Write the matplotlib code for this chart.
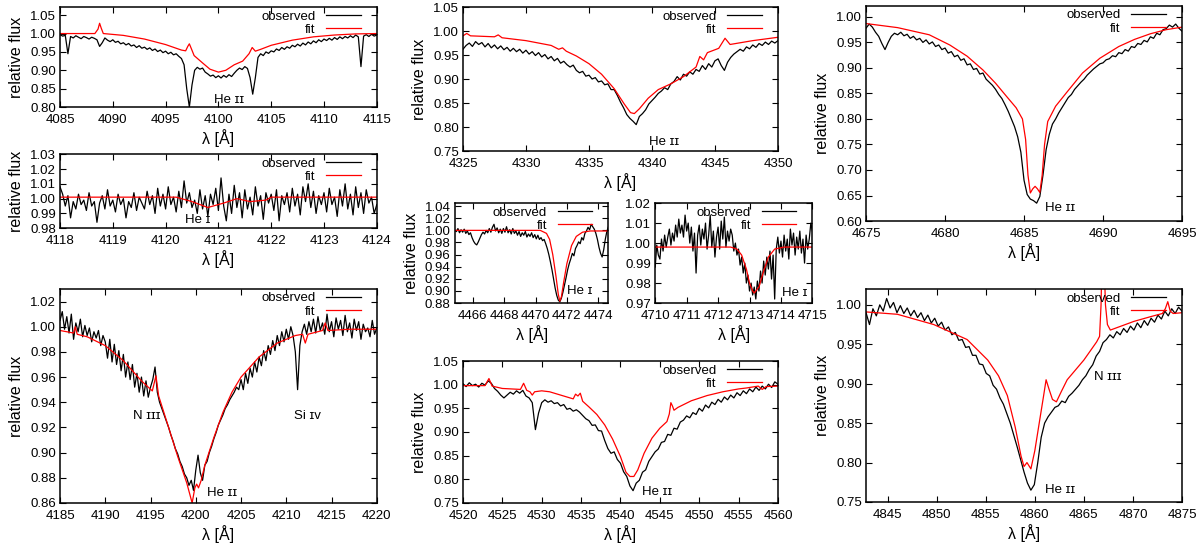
import numpy as np
import matplotlib
matplotlib.use("Agg")
import matplotlib.pyplot as plt
from matplotlib.ticker import FormatStrFormatter

plt.rcParams['font.family'] = ['Liberation Sans', 'DejaVu Sans']

# ---- He II 4100 region ----
obs_4100 = [0.997, 0.993, 0.995, 0.945, 0.992, 0.988, 0.994, 0.990, 0.986, 0.992,
            0.989, 0.985, 0.990, 0.987, 0.983, 0.965, 0.975, 0.988, 0.982, 0.978,
            0.983, 0.976, 0.979, 0.972, 0.975, 0.969, 0.973, 0.966, 0.969, 0.962,
            0.967, 0.960, 0.963, 0.957, 0.961, 0.954, 0.958, 0.951, 0.955, 0.948,
            0.952, 0.945, 0.949, 0.942, 0.945, 0.938, 0.932, 0.915, 0.850, 0.800,
            0.860, 0.900, 0.908, 0.903, 0.906, 0.895, 0.890, 0.884, 0.887, 0.880,
            0.885, 0.879, 0.886, 0.881, 0.888, 0.883, 0.892, 0.900, 0.906, 0.902,
            0.910, 0.905, 0.880, 0.835, 0.880, 0.935, 0.945, 0.940, 0.950, 0.946,
            0.953, 0.950, 0.958, 0.954, 0.962, 0.957, 0.964, 0.960, 0.968, 0.964,
            0.971, 0.966, 0.974, 0.969, 0.977, 0.972, 0.980, 0.975, 0.983, 0.978,
            0.985, 0.981, 0.987, 0.982, 0.989, 0.984, 0.991, 0.986, 0.992, 0.988,
            0.994, 0.989, 0.996, 0.991, 0.910, 0.993, 0.997, 0.992, 0.998, 0.993,
            0.996]
fit_x_4100 = [4085, 4088.3, 4088.6, 4088.75, 4088.9, 4089.1, 4091, 4093, 4095, 4096.5,
              4096.9, 4097.1, 4097.25, 4097.45, 4097.7, 4098.5, 4099.2, 4100, 4100.7,
              4101.5, 4102.3, 4102.9, 4103.2, 4103.5, 4104, 4105, 4107, 4109, 4111,
              4113, 4115]
fit_y_4100 = [1.000, 1.000, 1.012, 1.028, 1.015, 1.000, 0.995, 0.985, 0.970, 0.955,
              0.953, 0.965, 0.972, 0.958, 0.940, 0.920, 0.903, 0.895, 0.900,
              0.915, 0.925, 0.945, 0.962, 0.952, 0.957, 0.968, 0.982, 0.991, 0.996,
              0.999, 1.000]

# ---- He I 4121 region ----
obs_4121 = [1.008, 1.003, 0.995, 1.002, 0.987, 0.998, 0.993, 1.003, 0.996, 0.999,
            0.992, 1.004, 0.995, 0.998, 0.984, 0.997, 1.002, 0.993, 1.006, 0.995,
            0.999, 0.991, 1.003, 0.996, 1.000, 0.987, 0.998, 0.994, 1.004, 0.992,
            1.001, 0.997, 0.993, 1.005, 0.996, 1.002, 0.990, 1.007, 0.995, 1.003,
            0.993, 1.008, 0.996, 1.001, 0.991, 1.005, 0.994, 1.012, 0.997, 1.004,
            0.994, 0.999, 0.990, 1.006, 0.993, 1.002, 0.988, 1.003, 0.996, 1.007,
            0.992, 1.014, 0.995, 0.985, 1.003, 0.990, 1.009, 0.994, 1.004, 0.987,
            1.006, 0.993, 1.001, 0.989, 1.008, 0.995, 1.002, 0.986, 1.004, 0.997,
            1.003, 0.992, 1.006, 0.985, 1.002, 0.996, 1.004, 0.991, 1.007, 0.995,
            1.003, 0.989, 1.008, 0.998, 1.010, 0.994, 1.005, 0.990, 1.002, 0.996,
            1.004, 0.991, 1.007, 0.996, 1.001, 0.988, 1.006, 0.995, 1.010, 0.993,
            1.003, 0.989, 1.008, 0.994, 1.004, 0.990, 1.006, 0.997, 1.001, 0.990,
            0.996]
fit_x_4121 = [4118, 4120.2, 4120.5, 4120.8, 4121.1, 4121.35, 4121.6, 4121.9, 4122.0, 4124]
fit_y_4121 = [1.001, 1.001, 0.998, 0.994, 0.997, 1.000, 0.998, 0.999, 1.001, 1.001]

# ---- He II 4200 region ----
obs_4200 = [1.005, 1.012, 0.998, 1.008, 0.995, 1.010, 0.990, 1.003, 0.996, 1.006,
            0.992, 1.001, 0.993, 0.999, 0.988, 0.996, 0.991, 0.997, 0.985, 0.993,
            0.988, 0.975, 0.990, 0.972, 0.986, 0.970, 0.981, 0.965, 0.978, 0.960,
            0.972, 0.958, 0.970, 0.952, 0.963, 0.948, 0.960, 0.945, 0.957, 0.944,
            0.952, 0.958, 0.968, 0.948, 0.940, 0.935, 0.930, 0.925, 0.920, 0.914,
            0.909, 0.903, 0.899, 0.893, 0.889, 0.883, 0.880, 0.874, 0.878, 0.870,
            0.886, 0.898, 0.884, 0.878, 0.890, 0.893, 0.900, 0.905, 0.911, 0.916,
            0.922, 0.926, 0.930, 0.935, 0.938, 0.942, 0.945, 0.948, 0.952, 0.950,
            0.958, 0.950, 0.963, 0.955, 0.967, 0.960, 0.972, 0.964, 0.976, 0.969,
            0.981, 0.973, 0.985, 0.978, 0.989, 0.981, 0.993, 0.985, 0.996, 0.988,
            0.998, 0.990, 1.000, 0.993, 0.980, 0.950, 0.985, 0.996, 1.002, 0.994,
            1.004, 0.996, 1.006, 0.995, 1.008, 0.997, 1.003, 0.994, 1.010, 0.996,
            1.004, 0.992, 1.007, 0.998, 1.005, 0.993, 1.009, 0.996, 1.003, 0.991,
            1.006, 0.997, 1.004, 0.990, 1.002, 0.996, 0.999, 0.992, 1.005, 0.994,
            0.999]
fit_x_4200 = [4185, 4186.5, 4186.7, 4186.9, 4188, 4190, 4192, 4194, 4195.2, 4195.6,
              4195.9, 4197, 4198, 4199, 4199.6, 4199.9, 4200.1, 4200.3, 4200.6, 4201,
              4202, 4203, 4204, 4205, 4207, 4209, 4211, 4211.8, 4212.1, 4212.4,
              4214, 4214.3, 4214.6, 4217, 4220]
fit_y_4200 = [0.997, 0.995, 1.000, 0.994, 0.992, 0.985, 0.973, 0.957, 0.949, 0.961,
              0.945, 0.920, 0.897, 0.876, 0.860, 0.872, 0.875, 0.872, 0.878, 0.890,
              0.912, 0.932, 0.948, 0.960, 0.976, 0.987, 0.993, 0.994, 0.987, 0.994,
              0.997, 1.003, 0.997, 0.998, 0.998]

# ---- He II 4339 region ----
obs_4339 = [0.962, 0.970, 0.975, 0.968, 0.978, 0.972, 0.976, 0.967, 0.974, 0.965,
            0.971, 0.963, 0.969, 0.961, 0.966, 0.958, 0.964, 0.957, 0.962, 0.954,
            0.960, 0.952, 0.957, 0.949, 0.955, 0.946, 0.951, 0.942, 0.947, 0.938,
            0.943, 0.933, 0.937, 0.930, 0.925, 0.929, 0.918, 0.913, 0.916, 0.906,
            0.908, 0.900, 0.903, 0.894, 0.896, 0.888, 0.890, 0.878, 0.878, 0.866,
            0.852, 0.840, 0.826, 0.818, 0.812, 0.805, 0.822, 0.828, 0.836, 0.848,
            0.855, 0.862, 0.870, 0.875, 0.882, 0.878, 0.890, 0.895, 0.905, 0.898,
            0.910, 0.906, 0.915, 0.910, 0.920, 0.916, 0.928, 0.920, 0.932, 0.925,
            0.938, 0.942, 0.928, 0.918, 0.935, 0.945, 0.952, 0.957, 0.962, 0.958,
            0.967, 0.963, 0.971, 0.966, 0.974, 0.970, 0.977, 0.972, 0.979, 0.975,
            0.980]
fit_x_4339 = [4325, 4325.3, 4325.6, 4327.5, 4327.8, 4328.1, 4330, 4332, 4332.6, 4332.9,
              4333.2, 4334, 4335, 4336, 4337, 4337.8, 4338.3, 4338.6, 4339, 4339.7,
              4340.5, 4341.5, 4342.5, 4343.5, 4343.8, 4344.1, 4344.4, 4345.3, 4345.8,
              4346.2, 4348, 4350]
fit_y_4339 = [0.990, 0.995, 0.990, 0.988, 0.992, 0.986, 0.980, 0.970, 0.962, 0.965,
              0.958, 0.948, 0.932, 0.910, 0.880, 0.848, 0.830, 0.828, 0.838, 0.860,
              0.878, 0.890, 0.905, 0.925, 0.947, 0.940, 0.955, 0.964, 0.985,
              0.972, 0.980, 0.987]

# ---- He I 4471 region ----
obs_4471 = [1.000, 0.998, 1.003, 0.996, 1.001, 0.997, 1.002, 0.995, 0.999, 0.993,
            0.996, 0.988, 0.982, 0.978, 0.976, 0.981, 0.987, 0.993, 0.997, 0.994,
            1.000, 0.996, 1.003, 0.997, 1.005, 1.010, 0.999, 1.004, 0.996, 1.002,
            0.995, 1.003, 0.997, 1.006, 0.996, 1.001, 0.994, 1.003, 0.995, 0.999,
            0.992, 0.998, 0.990, 0.996, 0.992, 0.998, 0.989, 0.994, 0.990, 0.996,
            0.988, 0.993, 0.986, 0.992, 0.985, 0.988, 0.983, 0.985, 0.978, 0.970,
            0.960, 0.948, 0.935, 0.920, 0.905, 0.893, 0.885, 0.882, 0.888, 0.898,
            0.910, 0.922, 0.935, 0.945, 0.953, 0.962, 0.958, 0.970, 0.975, 0.981,
            0.978, 0.988, 0.984, 0.995, 0.999, 1.005, 1.001, 1.010, 1.006, 1.002,
            0.995, 0.985, 0.972, 0.962, 0.956, 0.968, 0.985, 0.998, 1.006]
fit_x_4471 = [4464.85, 4470.3, 4470.7, 4470.9, 4471.1, 4471.3, 4471.45, 4471.55, 4471.65,
              4471.8, 4472.0, 4472.3, 4472.6, 4473.0, 4473.5, 4474.65]
fit_y_4471 = [1.000, 1.000, 0.995, 0.985, 0.960, 0.925, 0.895, 0.883, 0.890,
              0.915, 0.945, 0.975, 0.990, 0.997, 0.999, 0.999]

# ---- He I 4713 region ----
obs_4713 = [0.988, 0.999, 0.994, 0.992, 1.002, 0.996, 1.004, 0.998, 1.003, 1.007,
            0.999, 1.005, 1.001, 1.009, 1.003, 1.012, 1.005, 1.009, 1.003, 1.014,
            1.006, 1.010, 1.000, 1.008, 0.996, 1.005, 0.985, 1.004, 1.009, 0.999,
            1.007, 1.002, 1.010, 0.997, 1.004, 1.014, 0.998, 1.006, 0.993, 1.003,
            1.008, 0.997, 1.011, 1.002, 1.013, 0.998, 1.006, 1.001, 1.007, 1.004,
            0.996, 1.000, 0.994, 0.997, 0.989, 0.993, 0.985, 0.990, 0.980, 0.984,
            0.976, 0.980, 0.974, 0.978, 0.972, 0.981, 0.976, 0.986, 0.980, 0.991,
            0.984, 0.993, 0.987, 0.996, 0.982, 0.994, 0.972, 0.997, 1.003, 0.995,
            1.001, 0.993, 1.004, 0.996, 1.002, 0.992, 1.007, 0.999, 1.005, 0.994,
            1.003, 0.997, 1.006, 0.995, 1.002, 0.990, 1.004, 0.997, 1.002, 1.010,
            1.006]
fit_x_4713 = [4710, 4712.4, 4712.6, 4712.75, 4712.9, 4713.0, 4713.1, 4713.15, 4713.3,
              4713.45, 4713.6, 4713.8, 4714.1, 4715]
fit_y_4713 = [0.998, 0.998, 0.997, 0.994, 0.987, 0.980, 0.976, 0.975, 0.978,
              0.986, 0.993, 0.997, 0.998, 0.998]

# ---- He II 4542 region ----
obs_4542 = [1.002, 0.996, 1.004, 0.998, 1.001, 0.995, 1.003, 0.999, 1.008, 1.003,
            0.992, 0.986, 0.978, 0.972, 0.978, 0.984, 0.980, 0.987, 0.982, 0.988,
            0.976, 0.972, 0.962, 0.905, 0.940, 0.962, 0.968, 0.963, 0.966, 0.960,
            0.962, 0.955, 0.958, 0.948, 0.950, 0.944, 0.947, 0.942, 0.935, 0.928,
            0.924, 0.914, 0.915, 0.903, 0.902, 0.882, 0.865, 0.855, 0.858, 0.842,
            0.834, 0.816, 0.806, 0.786, 0.776, 0.792, 0.798, 0.815, 0.820, 0.838,
            0.848, 0.858, 0.864, 0.878, 0.880, 0.895, 0.893, 0.908, 0.906, 0.921,
            0.925, 0.934, 0.930, 0.941, 0.937, 0.950, 0.944, 0.957, 0.951, 0.963,
            0.958, 0.969, 0.963, 0.974, 0.968, 0.978, 0.972, 0.983, 0.977, 0.987,
            0.981, 0.991, 0.985, 0.995, 0.988, 0.997, 0.991, 1.001, 0.994, 1.006,
            1.001]
fit_x_4542 = [4520, 4522.8, 4523.3, 4523.7, 4525, 4527.3, 4527.7, 4528.1, 4528.5, 4528.8,
              4529.1, 4530, 4531, 4532, 4533, 4534, 4534.3, 4534.6, 4534.9, 4535.2,
              4536, 4537, 4538, 4539, 4540, 4540.7, 4541.2, 4541.7, 4542.2, 4543,
              4544, 4545, 4545.9, 4546.2, 4546.4, 4546.6, 4546.8, 4547.3, 4549, 4551,
              4553, 4555, 4556, 4557.5, 4558, 4558.5, 4560]
fit_y_4542 = [0.998, 0.998, 1.013, 0.997, 0.992, 0.990, 1.003, 0.988, 0.985, 0.978,
              0.985, 0.987, 0.985, 0.980, 0.975, 0.970, 0.980, 0.976, 0.982, 0.965,
              0.953, 0.937, 0.915, 0.885, 0.848, 0.815, 0.806, 0.806, 0.820, 0.855,
              0.887, 0.908, 0.922, 0.938, 0.962, 0.955, 0.946, 0.952, 0.966, 0.977,
              0.985, 0.991, 0.993, 0.997, 0.990, 0.996, 0.997]

# ---- He II 4686 region ----
obs_4686 = [0.978, 0.986, 0.980, 0.970, 0.962, 0.948, 0.936, 0.950, 0.962, 0.968,
            0.965, 0.970, 0.963, 0.966, 0.958, 0.962, 0.955, 0.958, 0.950, 0.955,
            0.947, 0.951, 0.942, 0.945, 0.936, 0.939, 0.929, 0.932, 0.922, 0.925,
            0.915, 0.918, 0.906, 0.908, 0.897, 0.899, 0.888, 0.890, 0.878, 0.872,
            0.866, 0.858, 0.848, 0.840, 0.828, 0.815, 0.800, 0.785, 0.765, 0.735,
            0.680, 0.652, 0.643, 0.640, 0.635, 0.648, 0.690, 0.740, 0.770, 0.790,
            0.800, 0.812, 0.822, 0.832, 0.842, 0.848, 0.858, 0.865, 0.872, 0.878,
            0.886, 0.892, 0.898, 0.903, 0.908, 0.910, 0.916, 0.918, 0.924, 0.922,
            0.930, 0.928, 0.936, 0.933, 0.942, 0.940, 0.948, 0.946, 0.954, 0.951,
            0.961, 0.958, 0.968, 0.965, 0.975, 0.977, 0.984, 0.980, 0.986, 0.978,
            0.972]
fit_x_4686 = [4675, 4677, 4679, 4680.3, 4681.4, 4682.4, 4683.2, 4683.9, 4684.5, 4684.9,
              4685.1, 4685.25, 4685.4, 4685.55, 4685.7, 4685.85, 4686.0, 4686.15,
              4686.3, 4686.5, 4687, 4687.7, 4688.7, 4689.8, 4691, 4692, 4693, 4694,
              4695]
fit_y_4686 = [0.987, 0.979, 0.965, 0.945, 0.923, 0.896, 0.870, 0.844, 0.822, 0.800,
              0.760, 0.690, 0.655, 0.663, 0.668, 0.663, 0.656, 0.690,
              0.750, 0.795, 0.825, 0.852, 0.890, 0.919, 0.942, 0.956, 0.967, 0.975,
              0.980]

# ---- He II 4859 region ----
obs_4859 = [0.990, 0.975, 0.995, 0.986, 1.000, 0.992, 1.008, 0.996, 1.003, 0.990,
            0.999, 0.989, 0.996, 0.986, 0.993, 0.984, 0.990, 0.980, 0.987, 0.977,
            0.983, 0.973, 0.978, 0.968, 0.972, 0.962, 0.965, 0.955, 0.956, 0.946,
            0.947, 0.936, 0.936, 0.925, 0.924, 0.913, 0.910, 0.898, 0.893, 0.882,
            0.874, 0.862, 0.850, 0.835, 0.820, 0.804, 0.788, 0.774, 0.765, 0.772,
            0.800, 0.832, 0.850, 0.858, 0.864, 0.870, 0.872, 0.878, 0.876, 0.884,
            0.888, 0.893, 0.898, 0.905, 0.910, 0.918, 0.924, 0.935, 0.941, 0.952,
            0.956, 0.962, 0.958, 0.966, 0.962, 0.970, 0.965, 0.973, 0.968, 0.977,
            0.971, 0.980, 0.974, 0.983, 0.978, 0.987, 0.982, 0.992, 0.986, 0.995,
            0.989, 0.997, 0.992]
fit_x_4859 = [4842.8, 4846, 4849.7, 4853.1, 4855.2, 4856.3, 4857.2, 4858, 4858.6, 4858.9,
              4859.2, 4859.6, 4860.0, 4860.5, 4860.9, 4861.15, 4861.45, 4861.8, 4862.2,
              4862.7, 4863.3, 4865, 4866.3, 4866.6, 4866.75, 4866.85, 4867.05, 4867.2,
              4867.4, 4867.7, 4870.1, 4871.8, 4873.0, 4873.3, 4873.55, 4873.8, 4874.1,
              4875]
fit_y_4859 = [0.991, 0.988, 0.975, 0.956, 0.930, 0.910, 0.885, 0.845, 0.808, 0.795,
              0.800, 0.792, 0.815, 0.854, 0.885, 0.905, 0.893, 0.880, 0.877,
              0.890, 0.905, 0.930, 0.953, 0.960, 1.000, 1.060, 1.060, 1.000,
              0.975, 0.968, 0.979, 0.985, 0.989, 0.995, 1.004, 0.992, 0.989,
              0.990]


def draw(rect, obs, obs_range, fit_x, fit_y, xlim, ylim, xticks, yticks,
         notes, ylabel=True):
    ax = fig.add_axes(rect)
    wl = np.linspace(obs_range[0], obs_range[1], len(obs))
    ax.plot(wl, obs, color='black', lw=0.9, label='observed')
    ax.plot(fit_x, fit_y, color='red', lw=0.9, label='fit')
    ax.set_xlim(xlim)
    ax.set_ylim(ylim)
    ax.set_xticks(xticks)
    ax.set_yticks(yticks)
    ax.yaxis.set_major_formatter(FormatStrFormatter('%.2f'))
    ax.tick_params(direction='in', top=True, right=True, length=4, width=0.8,
                   labelsize=9.5)
    ax.tick_params(axis='x', pad=5)
    ax.tick_params(axis='y', pad=3)
    for s in ax.spines.values():
        s.set_linewidth(1.1)
    ax.set_xlabel('λ [Å]', fontsize=11.5, labelpad=2)
    if ylabel:
        ax.set_ylabel('relative flux', fontsize=11.5, labelpad=4)
    # gnuplot-style key: text first, sample line after, a bit in from the edge
    dx = 13.0 / (rect[2] * 1200)
    ax.legend(loc='upper right', bbox_to_anchor=(1 - dx, 1.0), frameon=False,
              markerfirst=False, fontsize=9.5, handlelength=2.6, handletextpad=0.8,
              labelspacing=0.08, borderaxespad=0.15, borderpad=0.1)
    for (tx, ty, s) in notes:
        ax.text(tx, ty, s, fontsize=9.5, ha='center', va='center')
    return ax


fig = plt.figure(figsize=(12, 5.46), dpi=100)

draw([0.050, 0.804, 0.264, 0.183], obs_4100, (4085, 4115), fit_x_4100, fit_y_4100,
     (4085, 4115), (0.80, 1.072), np.arange(4085, 4116, 5),
     np.arange(0.80, 1.051, 0.05), [(4101, 0.82, 'He ɪɪ')])

draw([0.050, 0.582, 0.264, 0.1355], obs_4121, (4118, 4124), fit_x_4121, fit_y_4121,
     (4118, 4124), (0.98, 1.03), np.arange(4118, 4125, 1),
     np.arange(0.98, 1.031, 0.01), [(4120.6, 0.9855, 'He ɪ')])

draw([0.050, 0.0788, 0.264, 0.392], obs_4200, (4185, 4220), fit_x_4200, fit_y_4200,
     (4185, 4220), (0.86, 1.03), np.arange(4185, 4221, 5),
     np.arange(0.86, 1.021, 0.02),
     [(4194.6, 0.929, 'N ɪɪɪ'), (4212.3, 0.929, 'Si ɪᴠ'), (4202.9, 0.868, 'He ɪɪ')])

draw([0.3858, 0.7234, 0.2625, 0.2637], obs_4339, (4325, 4350), fit_x_4339, fit_y_4339,
     (4325, 4350), (0.75, 1.05), np.arange(4325, 4351, 5),
     np.arange(0.75, 1.051, 0.05), [(4341.0, 0.769, 'He ɪɪ')])

draw([0.379, 0.445, 0.128, 0.183], obs_4471, (4464.85, 4474.65), fit_x_4471, fit_y_4471,
     (4464.85, 4474.65), (0.88, 1.045), np.arange(4466, 4475, 2),
     np.arange(0.88, 1.041, 0.02), [(4472.8, 0.90, 'He ɪ')])

draw([0.546, 0.445, 0.131, 0.183], obs_4713, (4710, 4715), fit_x_4713, fit_y_4713,
     (4710, 4715), (0.97, 1.02), np.arange(4710, 4716, 1),
     np.arange(0.97, 1.021, 0.01), [(4714.45, 0.975, 'He ɪ')], ylabel=False)

draw([0.3858, 0.0788, 0.2625, 0.260], obs_4542, (4520, 4560), fit_x_4542, fit_y_4542,
     (4520, 4560), (0.75, 1.05), np.arange(4520, 4561, 5),
     np.arange(0.75, 1.051, 0.05), [(4544.6, 0.773, 'He ɪɪ')])

draw([0.7217, 0.5952, 0.2633, 0.394], obs_4686, (4675, 4695), fit_x_4686, fit_y_4686,
     (4675, 4695), (0.60, 1.0216), np.arange(4675, 4696, 5),
     np.arange(0.60, 1.001, 0.05), [(4687.3, 0.625, 'He ɪɪ')])

draw([0.7217, 0.0806, 0.2633, 0.390], obs_4859, (4842.8, 4875), fit_x_4859, fit_y_4859,
     (4842.8, 4875), (0.75, 1.02), np.arange(4845, 4876, 5),
     np.arange(0.75, 1.001, 0.05),
     [(4862.6, 0.765, 'He ɪɪ'), (4867.4, 0.908, 'N ɪɪɪ')])

fig.savefig('out.png', dpi=100)
